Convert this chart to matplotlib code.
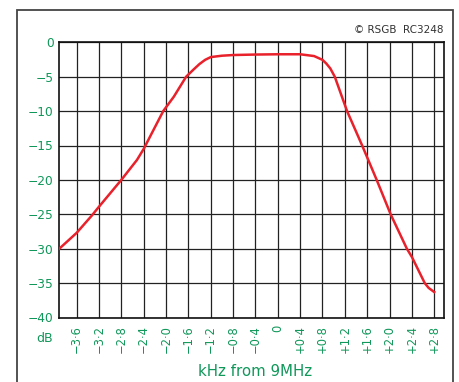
import matplotlib.pyplot as plt
from matplotlib.patches import Rectangle

# response
freq_khz = [-3.91, -3.6, -3.33, -3.2, -2.8, -2.52, -2.4, -2.05, -1.86, -1.64, -1.5, -1.4, -1.3, -1.2,
            -1.0, -0.8, -0.4, 0.0, 0.4, 0.65, 0.8, 0.87, 0.94, 1.02, 1.24, 1.51, 1.77, 2.02, 2.31,
            2.4, 2.63, 2.7, 2.8]
atten_db = [-30, -27.7, -25.2, -23.9, -20, -17.1, -15.5, -10, -7.9, -5, -3.9, -3.15, -2.55, -2.15,
            -1.95, -1.85, -1.78, -1.74, -1.74, -2.0, -2.55, -3.1, -3.8, -5, -10, -15, -20, -25, -30,
            -31.2, -35, -35.7, -36.3]

xticks = [-3.6, -3.2, -2.8, -2.4, -2.0, -1.6, -1.2, -0.8, -0.4, 0, 0.4, 0.8, 1.2, 1.6, 2.0, 2.4, 2.8]
xlabels = ['−3·6', '−3·2', '−2·8', '−2·4', '−2·0', '−1·6', '−1·2', '−0·8', '−0·4', '0',
           '+0·4', '+0·8', '+1·2', '+1·6', '+2·0', '+2·4', '+2·8']
yticks = [0, -5, -10, -15, -20, -25, -30, -35, -40]
ylabels = ['0', '−5', '−10', '−15', '−20', '−25', '−30', '−35', '−40']

green = '#10975a'
W, H = 460, 382

fig = plt.figure(figsize=(W / 100, H / 100), dpi=100)
fig.patches.append(Rectangle((16.5 / W, -0.1), 437 / W, 1.1 - 10 / H, transform=fig.transFigure,
                             fill=False, edgecolor='#444444', linewidth=1.3))

ax = fig.add_axes([59.3 / W, 64.5 / H, 385 / W, 275.2 / H])
ax.plot(freq_khz, atten_db, color='#e8212b', linewidth=1.8, zorder=3)
ax.set_xlim(-3.91, 2.98)
ax.set_ylim(-40, 0)

ax.set_xticks(xticks)
ax.set_xticklabels(xlabels, rotation=90, va='top', ha='center')
ax.set_yticks(yticks)
ax.set_yticklabels(ylabels)
ax.tick_params(length=0, labelcolor=green)
ax.tick_params(axis='x', pad=5.5, labelsize=8.3)
ax.tick_params(axis='y', pad=4, labelsize=8.8)
ax.grid(True, color='#222222', linewidth=0.9)
for s in ax.spines.values():
    s.set_color('#111111')
    s.set_linewidth(1.2)

fig.text(53 / W, 1 - 339 / H, 'dB', color=green, fontsize=9, ha='right', va='center')
fig.text(255 / W, 1 - 371 / H, 'kHz from 9MHz', color=green, fontsize=10.8, ha='center', va='center')
fig.text(444 / W, 1 - 30 / H, '© RSGB  RC3248', color='#333333', fontsize=7.5, ha='right', va='center')

fig.savefig('out.png', dpi=100)
